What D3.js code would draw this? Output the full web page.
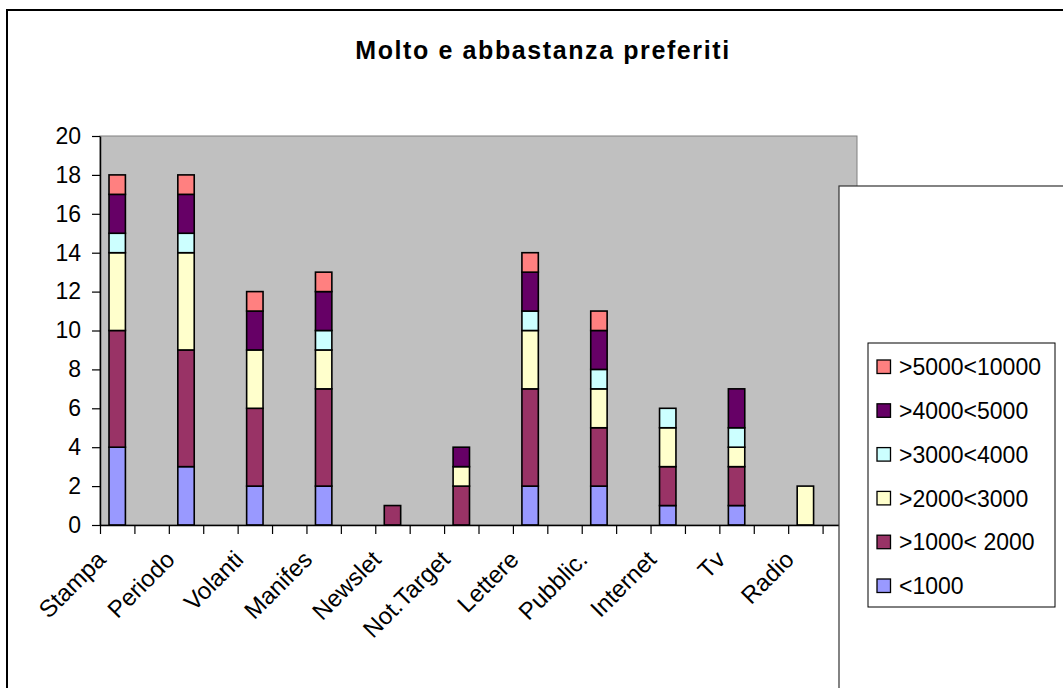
<!DOCTYPE html>
<html>
<head>
<meta charset="utf-8">
<script src="https://cdn.jsdelivr.net/npm/d3@7"></script>
<style>
  html, body { margin: 0; padding: 0; background: #ffffff; }
  svg { display: block; font-family: "Liberation Sans", Arial, sans-serif; }
</style>
</head>
<body>
<svg id="chart" width="1063" height="688"></svg>
<script>
// Categories of promotional channels
const categories = ["Stampa", "Periodo", "Volanti", "Manifes", "Newslet", "Not.Target",
                    "Lettere", "Pubblic.", "Internet", "Tv", "Radio"];

// Series (stacked bottom to top)
const seriesNames = ["<1000", ">1000< 2000", ">2000<3000", ">3000<4000", ">4000<5000", ">5000<10000"];
const seriesColors = ["#9999FF", "#993366", "#FFFFCC", "#CCFFFF", "#660066", "#FF8080"];

const lt1000      = [4, 3, 2, 2, 0, 0, 2, 2, 1, 1, 0];
const s1000_2000  = [6, 6, 4, 5, 1, 2, 5, 3, 2, 2, 0];
const s2000_3000  = [4, 5, 3, 2, 0, 1, 3, 2, 2, 1, 2];
const s3000_4000  = [1, 1, 0, 1, 0, 0, 1, 1, 1, 1, 0];
const s4000_5000  = [2, 2, 2, 2, 0, 1, 2, 2, 0, 2, 0];
const s5000_10000 = [1, 1, 1, 1, 0, 0, 1, 1, 0, 0, 0];

const yTicks = [0, 2, 4, 6, 8, 10, 12, 14, 16, 18, 20];
const title = "Molto e abbastanza preferiti";

const seriesValues = [lt1000, s1000_2000, s2000_3000, s3000_4000, s4000_5000, s5000_10000];
const rows = categories.map((c, i) => {
  const r = { cat: c };
  seriesNames.forEach((s, k) => { r[s] = seriesValues[k][i]; });
  return r;
});

const svg = d3.select("#chart");

// Chart frame (left and top edges visible)
svg.append("path")
  .attr("d", "M7,688 L7,10 L1063,10")
  .attr("fill", "none")
  .attr("stroke", "#000")
  .attr("stroke-width", 2);

const plot = { left: 100, right: 857, top: 136, bottom: 525 };

const x = d3.scaleBand().domain(categories).range([plot.left, plot.right]).paddingInner(0).paddingOuter(0);
const step = x.step();
const barW = 16.4;
const y = d3.scaleLinear().domain([0, 20]).range([plot.bottom, plot.top]);
const tickScale = d3.scaleLinear().domain([0, categories.length * 2]).range([plot.left, plot.right]);

// Plot area
svg.append("rect")
  .attr("x", plot.left).attr("y", plot.top)
  .attr("width", plot.right - plot.left).attr("height", plot.bottom - plot.top)
  .attr("fill", "#C0C0C0")
  .attr("stroke", "#808080").attr("stroke-width", 1);

// Stacked bars
const stacked = d3.stack().keys(seriesNames)(rows);
svg.append("g").selectAll("g")
  .data(stacked)
  .join("g")
  .attr("fill", (d, i) => seriesColors[i])
  .selectAll("rect")
  .data(d => d.filter(v => v[1] - v[0] > 0))
  .join("rect")
  .attr("x", d => x(d.data.cat) + step / 4 - barW / 2)
  .attr("y", d => y(d[1]))
  .attr("width", barW)
  .attr("height", d => y(d[0]) - y(d[1]))
  .attr("stroke", "#000")
  .attr("stroke-width", 1.6);

// Y axis
const yAxis = svg.append("g")
  .attr("transform", `translate(${plot.left},0)`)
  .call(d3.axisLeft(y).tickValues(yTicks).tickSize(8).tickPadding(11).tickSizeOuter(0));
yAxis.select(".domain").attr("stroke", "#000").attr("stroke-width", 1.5);
yAxis.selectAll(".tick line").attr("stroke", "#000").attr("stroke-width", 1.2);
yAxis.selectAll(".tick text")
  .attr("font-family", "Liberation Sans, Arial, sans-serif")
  .attr("font-size", 23).attr("fill", "#000");

// X axis ticks at band edges and midpoints
const xAxis = svg.append("g")
  .attr("transform", `translate(0,${plot.bottom})`)
  .call(d3.axisBottom(tickScale).tickValues(d3.range(categories.length * 2 + 1))
    .tickSize(9).tickFormat("").tickSizeOuter(0));
xAxis.select(".domain").attr("stroke", "#000").attr("stroke-width", 1.5);
xAxis.selectAll(".tick line").attr("stroke", "#000").attr("stroke-width", 1.2);

// Rotated category labels
svg.append("g").selectAll("text")
  .data(categories)
  .join("text")
  .attr("transform", d => `translate(${x(d) + step / 4 - 22},${plot.bottom + 24}) rotate(-45)`)
  .attr("text-anchor", "end")
  .attr("dy", "0.71em")
  .attr("font-size", 24)
  .attr("fill", "#000")
  .text(d => d);

// Title
svg.append("text")
  .attr("x", 543).attr("y", 59)
  .attr("text-anchor", "middle")
  .attr("font-size", 25).attr("font-weight", "bold")
  .attr("letter-spacing", "1.6px")
  .attr("fill", "#000")
  .text(title);

// Legend panel over the plot's right side
svg.append("rect")
  .attr("x", 839).attr("y", 186).attr("width", 300).attr("height", 600)
  .attr("fill", "#fff").attr("stroke", "#333").attr("stroke-width", 1.2);

const legend = svg.append("g");
legend.append("rect")
  .attr("x", 868).attr("y", 343).attr("width", 187).attr("height", 264)
  .attr("fill", "#fff").attr("stroke", "#000").attr("stroke-width", 1);

const legendItems = seriesNames.map((s, i) => ({ name: s, color: seriesColors[i] })).reverse();
const li = legend.selectAll("g.item")
  .data(legendItems)
  .join("g")
  .attr("class", "item")
  .attr("transform", (d, i) => `translate(877,${367 + i * 43.8})`);
li.append("rect")
  .attr("x", 0).attr("y", -7).attr("width", 13.5).attr("height", 13.5)
  .attr("fill", d => d.color).attr("stroke", "#000").attr("stroke-width", 1.3);
li.append("text")
  .attr("x", 22).attr("y", 0).attr("dy", "0.36em")
  .attr("font-size", 23).attr("fill", "#000")
  .text(d => d.name);
</script>
</body>
</html>
